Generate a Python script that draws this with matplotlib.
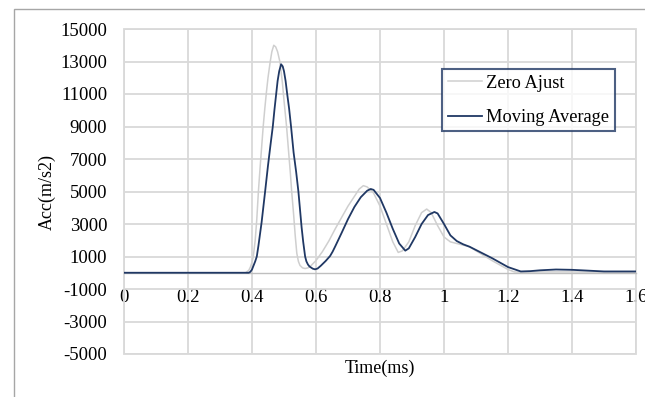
import matplotlib.pyplot as plt
from matplotlib.patches import Rectangle

plt.rcParams['font.family'] = ['Liberation Serif', 'DejaVu Serif']
plt.rcParams['axes.unicode_minus'] = False

# Zero Ajust curve
t_zero = [0.00, 0.38, 0.39, 0.395, 0.40, 0.404, 0.41, 0.415, 0.42, 0.425, 0.43,
          0.435, 0.44, 0.445, 0.45, 0.457, 0.462, 0.468, 0.474, 0.48, 0.487,
          0.495, 0.50, 0.508, 0.515, 0.52, 0.524, 0.53, 0.535, 0.54, 0.545,
          0.55, 0.558, 0.566, 0.575, 0.585, 0.60, 0.62, 0.64, 0.66, 0.68, 0.70,
          0.72, 0.735, 0.748, 0.76, 0.78, 0.80, 0.82, 0.84, 0.857, 0.87, 0.89,
          0.91, 0.93, 0.946, 0.96, 0.98, 1.00, 1.02, 1.05, 1.08, 1.10, 1.15,
          1.20, 1.22, 1.25, 1.30, 1.40, 1.50, 1.60]
acc_zero = [0, 0, 150, 350, 650, 1000, 2000, 3300, 5000, 6400, 7700,
            9000, 10100, 11100, 12000, 13000, 13600, 14000, 13900, 13600, 13000,
            11700, 10600, 9000, 7300, 6100, 5000, 3600, 2300, 1200, 700,
            450, 300, 260, 300, 450, 750, 1300, 1950, 2700, 3400, 4100,
            4700, 5150, 5360, 5280, 4900, 4100, 3000, 1900, 1250, 1350, 1900,
            2900, 3700, 3920, 3700, 2900, 2200, 1900, 1750, 1600, 1350, 750,
            200, 50, 20, 50, 50, 30, 30]

# Moving Average curve
t_avg = [0.00, 0.39, 0.395, 0.40, 0.405, 0.41, 0.415, 0.42, 0.43, 0.441, 0.45,
         0.458, 0.465, 0.47, 0.475, 0.48, 0.485, 0.491, 0.496, 0.50, 0.505,
         0.51, 0.516, 0.522, 0.53, 0.538, 0.545, 0.55, 0.555, 0.56, 0.566,
         0.57, 0.575, 0.58, 0.59, 0.597, 0.605, 0.615, 0.63, 0.644, 0.652, 0.66,
         0.68, 0.70, 0.72, 0.74, 0.76, 0.771, 0.78, 0.80, 0.82, 0.84, 0.86,
         0.879, 0.89, 0.91, 0.93, 0.95, 0.97, 0.98, 1.00, 1.02, 1.04, 1.06,
         1.08, 1.10, 1.15, 1.20, 1.24, 1.27, 1.30, 1.35, 1.40, 1.45, 1.50, 1.60]
acc_avg = [0, 0, 60, 200, 450, 700, 1000, 1650, 3100, 5000, 6600,
           7900, 9000, 10000, 10900, 11800, 12400, 12830, 12700, 12400, 11800,
           11000, 10100, 9000, 7400, 6200, 5000, 3900, 2800, 1900, 1000,
           700, 500, 380, 250, 210, 260, 430, 720, 1030, 1300, 1620,
           2450, 3300, 4050, 4650, 5050, 5155, 5100, 4600, 3700, 2700, 1800,
           1360, 1500, 2200, 3000, 3550, 3740, 3650, 3000, 2300, 1950, 1750,
           1600, 1400, 900, 350, 80, 100, 150, 200, 180, 130, 80, 80]

x_ticks = [0, 0.2, 0.4, 0.6, 0.8, 1, 1.2, 1.4, 1.6]
x_labels = ['0', '0.2', '0.4', '0.6', '0.8', '1', '1.2', '1.4', '1.6']
y_ticks = list(range(-5000, 15001, 2000))

grid_col = '#d9d9d9'
navy = '#203864'

fig = plt.figure(figsize=(6.45, 3.97), dpi=100)
ax = fig.add_axes([124/645, 1 - 354/397, 512/645, 325/397])

ax.plot(t_zero, acc_zero, color='#cfcfcf', lw=1.1, label='Zero Ajust', zorder=3)
ax.plot(t_avg, acc_avg, color=navy, lw=1.3, label='Moving Average', zorder=4)

ax.set_xlim(0, 1.6)
ax.set_ylim(-5000, 15000)
ax.set_xticks(x_ticks)
ax.set_xticklabels(x_labels)
ax.set_yticks(y_ticks)
ax.grid(True, color=grid_col, lw=1.3)
ax.set_axisbelow(True)

for s in ['left', 'right', 'top']:
    ax.spines[s].set_visible(False)
ax.spines['bottom'].set_position(('data', 0))
ax.spines['bottom'].set_color('#bfbfbf')
ax.spines['bottom'].set_linewidth(1.0)
ax.tick_params(axis='both', length=0, labelsize=13.5)
ax.tick_params(axis='x', pad=12)
ax.tick_params(axis='y', pad=12)
ax.add_patch(Rectangle((0, 0), 1, 1, transform=ax.transAxes, fill=False,
                       ec=grid_col, lw=1.3, clip_on=False, zorder=1))

fig.text(380/645, 1 - 368/397, 'Time(ms)', ha='center', va='center', fontsize=13)
fig.text(47/645, 1 - 192/397, 'Acc(m/s2)', ha='center', va='center',
         rotation=90, fontsize=13)

leg = ax.legend(loc='upper left', bbox_to_anchor=(442/645, 1 - 69/397),
                bbox_transform=fig.transFigure, fontsize=13.2, frameon=True,
                fancybox=False, handlelength=1.9, borderpad=0.3,
                labelspacing=0.95, handletextpad=0.2, borderaxespad=0)
leg.get_frame().set_edgecolor(navy)
leg.get_frame().set_linewidth(1.5)

# outer chart border (cut off on right and bottom)
fig.add_artist(Rectangle((14/645, -0.1), 1.0, 1 - 9/397 + 0.1,
                         transform=fig.transFigure, fill=False,
                         ec='#a6a6a6', lw=1.0))

fig.savefig('out.png', dpi=100)
